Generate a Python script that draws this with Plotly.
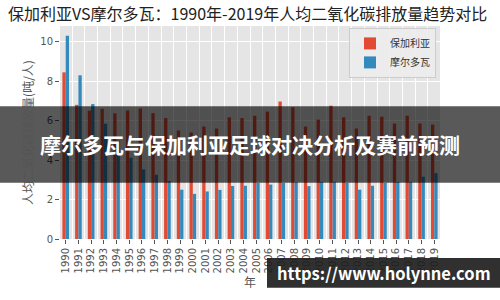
import plotly.graph_objects as go

years = list(range(1990, 2020))
bulgaria = [8.45, 6.8, 6.5, 6.6, 6.37, 6.52, 6.62, 6.38, 6.13, 5.5,
            5.4, 5.7, 5.6, 6.17, 6.13, 6.25, 6.46, 6.97, 6.68, 5.7,
            6.05, 6.76, 6.17, 5.6, 6.25, 6.2, 5.85, 6.25, 5.85, 5.8]
moldova = [10.3, 8.3, 6.84, 5.85, 4.98, 4.12, 3.53, 3.26, 2.94, 2.5,
           2.29, 2.41, 2.49, 2.69, 2.70, 2.85, 2.76, 2.85, 2.88, 2.68,
           2.9, 2.9, 2.85, 2.5, 2.7, 2.85, 2.9, 2.9, 3.16, 3.34]
series_names = ["保加利亚", "摩尔多瓦"]
yticks = [0, 2, 4, 6, 8, 10]

title_text = "保加利亚VS摩尔多瓦：1990年-2019年人均二氧化碳排放量趋势对比"
banner_text = "摩尔多瓦与保加利亚足球对决分析及赛前预测"
watermark_text = "https://www.holynne.com"

CJK = "Noto Sans CJK SC, Noto Sans, sans-serif"

# plot area in pixels
L, R, T, B = 60, 440, 26, 249
W, H = 500, 300
pw, ph = R - L, B - T


def px_x(p):
    return (p - L) / pw


def px_y(p):
    return (B - p) / ph


fig = go.Figure()
fig.add_trace(go.Bar(x=years, y=bulgaria, name=series_names[0],
                     marker=dict(color="#E24A33", line=dict(width=0))))
fig.add_trace(go.Bar(x=years, y=moldova, name=series_names[1],
                     marker=dict(color="#348ABD", line=dict(width=0))))
# invisible trace to bind the overlay grid axis
fig.add_trace(go.Scatter(x=[years[0]], y=[0], xaxis="x2", mode="markers",
                         marker=dict(opacity=0), showlegend=False,
                         hoverinfo="skip"))

xr = [1989.55, 2019.45]
fig.update_layout(
    width=W, height=H,
    margin=dict(l=L, r=W - R, t=T, b=H - B, pad=0),
    paper_bgcolor="white",
    plot_bgcolor="#E5E5E5",
    barmode="group", bargap=0.48, bargroupgap=0,
    font=dict(family=CJK, color="#555555", size=10),
    showlegend=True,
    legend=dict(x=px_x(349), y=px_y(28), xanchor="left", yanchor="top",
                bgcolor="rgba(236,236,236,0.9)", bordercolor="#CCCCCC",
                borderwidth=1, font=dict(size=10, color="#333333"),
                itemwidth=30, tracegroupgap=0),
    xaxis=dict(range=xr, tickmode="array", tickvals=years,
               ticktext=[str(y) for y in years], tickangle=-90,
               ticks="outside", ticklen=4, tickcolor="#555555",
               showgrid=False, zeroline=False, showline=False,
               tickfont=dict(size=10, color="#555555", family="DejaVu Sans, sans-serif"),
               title=dict(text="年", font=dict(size=12, color="#555555"), standoff=6)),
    xaxis2=dict(range=xr, overlaying="x", tick0=1989.5, dtick=1,
                showgrid=True, gridcolor="white", gridwidth=1,
                showticklabels=False, ticks="", zeroline=False,
                showline=False),
    yaxis=dict(range=[0, 10.8], tickvals=yticks, ticks="outside", ticklen=4,
               tickcolor="#555555", showgrid=True, gridcolor="white",
               gridwidth=1, zeroline=False, showline=False,
               tickfont=dict(size=10, color="#555555", family="DejaVu Sans, sans-serif"),
               title=dict(text="人均二氧化碳排放量(吨/人)",
                          font=dict(size=12, color="#555555"), standoff=4)),
    title=dict(text=title_text, x=8 / W, xanchor="left",
               y=1 - 14 / H, yanchor="middle",
               font=dict(size=16, color="#222222", family=CJK)),
)

shapes = [
    dict(type="rect", xref="paper", yref="paper", layer="above",
         x0=px_x(0), x1=px_x(W), y0=px_y(190), y1=px_y(110),
         fillcolor="rgba(0,0,0,0.65)", line=dict(width=0)),
    dict(type="rect", xref="paper", yref="paper", layer="above",
         x0=px_x(267), x1=px_x(W), y0=px_y(H), y1=px_y(269),
         fillcolor="rgba(30,30,30,0.92)", line=dict(width=0)),
]
fig.update_layout(shapes=shapes)
fig.add_annotation(text=banner_text, xref="paper", yref="paper",
                   x=px_x(250), y=px_y(150), showarrow=False,
                   xanchor="center", yanchor="middle",
                   font=dict(size=21, color="white", family=CJK, weight="bold"))
fig.add_annotation(text=watermark_text, xref="paper", yref="paper",
                   x=px_x(384), y=px_y(285), showarrow=False,
                   xanchor="center", yanchor="middle",
                   font=dict(size=16.5, color="white", family=CJK, weight="bold"))

fig.write_html("out.html")
